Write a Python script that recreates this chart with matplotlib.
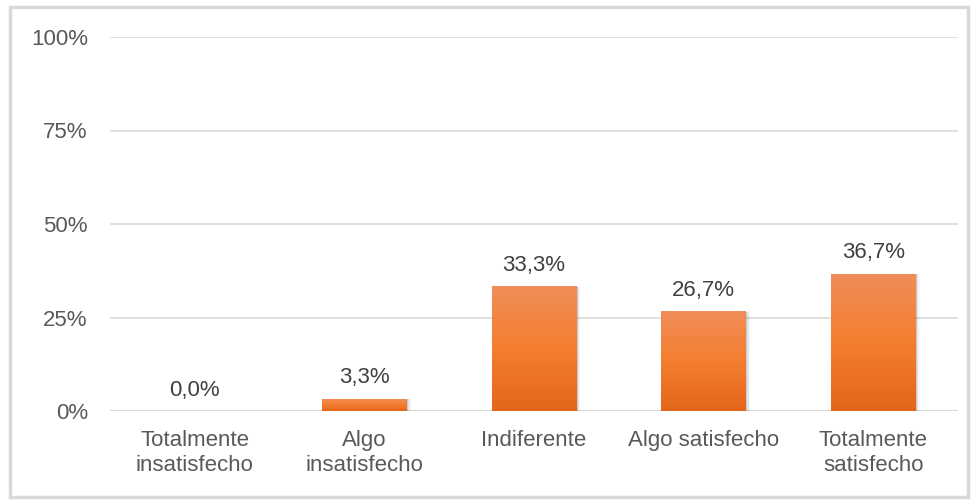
import numpy as np
import matplotlib.pyplot as plt
from matplotlib.patches import Rectangle
from matplotlib.colors import LinearSegmentedColormap

plt.rcParams['font.family'] = ['Liberation Sans', 'DejaVu Sans']

categorias = ['Totalmente\ninsatisfecho', 'Algo\ninsatisfecho', 'Indiferente',
              'Algo satisfecho', 'Totalmente\nsatisfecho']
porcentajes = [0.0, 3.3, 33.3, 26.7, 36.7]
ticks_y = [0, 25, 50, 75, 100]

W, H = 978, 504
fs = 16
fig = plt.figure(figsize=(W / 100, H / 100), dpi=100)
ax = fig.add_axes([110 / W, 1 - 411 / H, 848 / W, 374 / H])

# marco exterior del grafico
fig.patches.append(Rectangle((10 / W, 7 / H), 958 / W, 490 / H, transform=fig.transFigure,
                             fill=False, edgecolor='#D9D9D9', linewidth=2.5))

x = np.arange(len(categorias))
ancho = 0.5
grad = LinearSegmentedColormap.from_list('naranja', ['#E4661A', '#F47E30', '#F08D58'])
barras = ax.bar(x, porcentajes, width=ancho, color='none', zorder=3)

for b, v in zip(barras, porcentajes):
    if v > 0:
        x0 = b.get_x()
        # sombra suave a la derecha
        for k, a in enumerate([0.12, 0.07, 0.03]):
            ax.add_patch(Rectangle((x0 + 0.008 * (k + 1), -0.4), ancho, v + 0.2,
                                   facecolor='black', alpha=a, edgecolor='none', zorder=2))
        img = ax.imshow(np.linspace(0, 1, 100).reshape(-1, 1), cmap=grad, origin='lower',
                        extent=[x0, x0 + ancho, 0, v], aspect='auto', zorder=3)
        img.set_clip_path(b)
    ax.text(b.get_x() + ancho / 2, v + 4.1, f'{v:.1f}%'.replace('.', ','),
            ha='center', va='baseline', fontsize=fs, color='#404040', zorder=4)

ax.set_xlim(-0.5, len(categorias) - 0.5)
ax.set_ylim(0, 100)
ax.set_yticks(ticks_y)
ax.set_yticklabels([f'{t}%' for t in ticks_y])
ax.set_xticks(x)
ax.set_xticklabels(categorias, linespacing=1.2)
ax.tick_params(axis='both', length=0, labelsize=fs, labelcolor='#595959')
ax.tick_params(axis='y', pad=16)
ax.tick_params(axis='x', pad=14)
ax.grid(axis='y', color='#D9D9D9', linewidth=1.2, zorder=0)
for s in ax.spines.values():
    s.set_visible(False)
ax.axhline(0, color='#D9D9D9', linewidth=1.5, zorder=1)

fig.savefig('out.png', dpi=100)
